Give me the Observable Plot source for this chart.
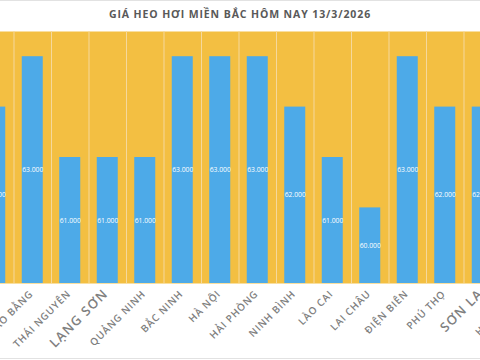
<!DOCTYPE html>
<html><head><meta charset="utf-8">
<script src="https://cdn.jsdelivr.net/npm/d3@7"></script>
<script src="https://cdn.jsdelivr.net/npm/@observablehq/plot@0.6"></script>
<style>
html,body{margin:0;padding:0;background:#fff;width:480px;height:360px;overflow:hidden;position:relative}
#title{position:absolute;left:0;top:0;width:480px;height:31px;line-height:29px;text-align:center;font-family:"Open Sans",sans-serif;font-weight:700;font-size:10.5px;letter-spacing:0.9px;color:#595959;white-space:nowrap}
#chart{position:absolute;left:-60px;top:31px;width:619px;height:329px}
#chart svg{max-width:none !important;display:block}
.hl{position:absolute;left:0;width:480px;height:1px;background:#e2e2e2}
</style></head>
<body>
<div class="hl" style="top:0"></div>
<div id="title">GIÁ HEO HƠI MIỀN BẮC HÔM NAY 13/3/2026</div>
<div id="chart"></div>
<div class="hl" style="top:358px"></div>
<script>
const provinces = ["TUYÊN QUANG","CAO BẰNG","THÁI NGUYÊN","LẠNG SƠN","QUẢNG NINH","BẮC NINH","HÀ NỘI","HẢI PHÒNG","NINH BÌNH","LÀO CAI","LAI CHÂU","ĐIỆN BIÊN","PHÚ THỌ","SƠN LA","HƯNG YÊN"];
const prices = [62000,63000,61000,61000,61000,63000,63000,63000,62000,61000,60000,63000,62000,62000,62000];
const largeLabels = ["LẠNG SƠN","SƠN LA"];
const yDomain = [58500, 63500];

const data = provinces.map((name, i) => ({name, value: prices[i]}));
const fmt = d3.formatLocale({decimal: ",", thousands: ".", grouping: [3], currency: ["", ""]}).format(",");
const step = 37.5;

const svg = Plot.plot({
  width: 619, height: 329,
  marginLeft: 36, marginRight: 20.5, marginTop: 0, marginBottom: 77,
  style: {fontFamily: "'Open Sans', sans-serif", background: "transparent", maxWidth: "none"},
  x: {domain: provinces, padding: 0, round: false, axis: null},
  y: {domain: yDomain, axis: null},
  marks: [
    Plot.frame({fill: "#F3BF42", stroke: null}),
    Plot.ruleX(provinces, {x: d => d, dx: -step / 2, stroke: "#F5D89C", strokeWidth: 1}),
    Plot.barY(data, {x: "name", y: "value", fill: "#4DAAE8", insetLeft: 8.25, insetRight: 8.25, clip: true}),
    Plot.text(data, {x: "name", y: d => (d.value + yDomain[0]) / 2, text: d => fmt(d.value), fill: "white", fontSize: 6.8}),
    Plot.text(data, {x: "name", text: "name", frameAnchor: "bottom", dy: 11, dx: 1, rotate: -45, textAnchor: "end",
      fontSize: d => largeLabels.includes(d.name) ? 13 : 10, fill: "#808080", fontWeight: 600})
  ]
});
svg.style.maxWidth = "none";
svg.querySelectorAll("text").forEach(t => {
  if (!/^\d/.test(t.textContent)) t.style.letterSpacing = largeLabels.includes(t.textContent) ? "1.2px" : "0.8px";
});
document.getElementById("chart").appendChild(svg);
</script>
</body></html>
